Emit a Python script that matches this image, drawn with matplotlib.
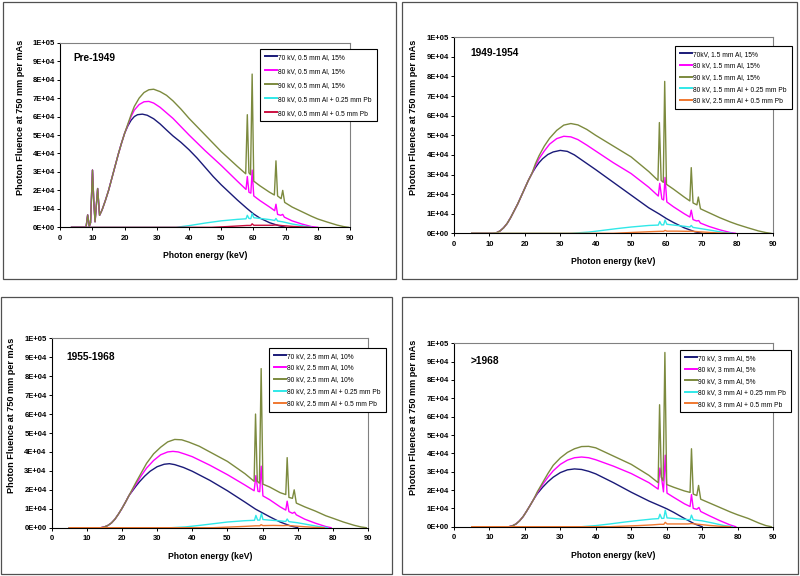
import numpy as np
import matplotlib.pyplot as plt
from matplotlib.ticker import FuncFormatter
from matplotlib.patches import Rectangle

plt.rcParams['font.family'] = ['Liberation Sans', 'DejaVu Sans']

# ================= data (keV, photons per mAs at 750 mm) =================
# ---- Pre-1949, 0.5 mm Al ----
p1_low_e = [3.5, 8.0, 8.5, 9.0, 9.4, 10.0, 10.4, 10.8, 11.6, 12.2, 13, 14, 15, 16, 17, 18, 19, 20]
p1_low_f = [0, 0, 6700, 500, 2500, 31000, 14000, 3000, 21000, 6500, 9500, 14500, 20000, 26500, 33000, 39500, 45500, 51000]
p1_e70 = [21, 22, 23, 24, 25.5, 27, 29, 31, 33, 35, 37.5, 40, 42.5, 45, 47.5, 50, 55, 58, 60, 62, 65, 68, 70]
p1_f70 = [55000, 58000, 60000, 61000, 61300, 60700, 58800, 56000, 52700, 49500, 46000, 42000, 37500, 32500, 27500,
          23000, 14800, 10200, 7300, 5000, 2500, 800, 0]
p1_e80 = [21, 22, 23, 24.5, 26, 27.5, 29, 31, 33, 35, 37.5, 40, 45, 50, 55, 57.7, 58.1, 58.6, 59.2, 59.6, 60.1,
          62, 65, 66.6, 67.0, 67.5, 68.5, 69.1, 69.6, 72, 75, 78, 80]
p1_f80 = [55500, 60000, 63500, 66500, 68000, 68200, 67300, 65000, 62000, 59000, 54500, 50000, 41500, 33500, 25000,
          20500, 27500, 19000, 18500, 31000, 17000, 14500, 11000, 9000, 12500, 7000, 6500, 7000, 5500, 3500, 1800, 400, 0]
p1_e90 = [21, 22, 23, 24.5, 26, 27.5, 29, 31, 33, 35, 37.5, 40, 45, 50, 55, 57.6, 58.1, 58.6, 59.1, 59.6, 60.1,
          62, 65, 66.5, 67.0, 67.5, 68.6, 69.1, 69.7, 72, 75, 78, 80, 83, 86, 88, 89.5]
p1_f90 = [56000, 61000, 65500, 70000, 73000, 74500, 74800, 73500, 71500, 68500, 64000, 59000, 50000, 41000, 33000,
          29000, 61000, 29500, 28500, 83000, 25000, 22500, 19000, 17500, 36000, 17000, 15500, 20000, 13500, 11000,
          8500, 6000, 4500, 2800, 1200, 400, 0]
p1_e_pb25 = [3.5, 36, 40, 45, 50, 55, 57.7, 58.1, 58.6, 59.2, 59.6, 60.1, 62, 65, 66.6, 67.0, 67.5, 69, 70, 72, 75, 78]
p1_f_pb25 = [0, 0, 900, 2300, 3500, 4300, 4600, 6500, 4800, 4700, 7500, 5200, 4800, 4200, 3700, 4800, 3400, 3000, 2600, 1800, 900, 0]
p1_e_pb50 = [3.5, 47, 52, 56, 58, 59.2, 59.6, 60.1, 63, 66, 67, 69, 72, 75, 77.5]
p1_f_pb50 = [0, 0, 400, 800, 1000, 1000, 1900, 1100, 1100, 1100, 1300, 900, 500, 200, 0]

# ---- 1949-1954, 1.5 mm Al ----
p2_low_e = [5, 11, 12, 13, 14, 15, 16, 17, 18, 19, 20, 21, 22]
p2_low_f = [0, 0, 300, 1200, 2800, 5000, 8000, 11500, 15000, 19000, 23000, 27000, 30500]
p2_e70 = [23, 24, 25, 26.5, 28, 30, 32, 34, 36, 38, 40, 45, 50, 55, 58, 60, 62, 65, 68, 70]
p2_f70 = [33500, 36000, 38000, 40200, 41500, 42300, 41800, 40000, 37500, 35000, 32500, 26000, 19500, 13000, 9800, 7500, 5500, 2800, 800, 0]
p2_e80 = [23, 24, 25.5, 27, 29, 31, 33, 35, 37.5, 40, 45, 50, 55, 57.7, 58.1, 58.7, 59.2, 59.6, 60.1,
          62, 65, 66.6, 67.0, 67.5, 68.5, 69.1, 69.6, 72, 75, 78, 79.5]
p2_f80 = [34500, 38000, 42000, 45500, 48300, 49500, 49200, 47800, 45000, 42000, 36000, 30500, 23500, 19000, 25500,
          17500, 17000, 28500, 16000, 13500, 10000, 8300, 11800, 7000, 6300, 6500, 5200, 3500, 1800, 400, 0]
p2_e90 = [23, 24, 25.5, 27, 29, 31, 33, 35, 37.5, 40, 45, 50, 55, 57.6, 58.0, 58.5, 59.1, 59.5, 60.0,
          62, 65, 66.6, 67.0, 67.5, 68.6, 69.0, 69.6, 72, 75, 78, 80, 83, 86, 88, 89.5]
p2_f90 = [35500, 39500, 44500, 48500, 52500, 55200, 56000, 55300, 53000, 50000, 44500, 39000, 31500, 27000, 56500,
          27000, 26000, 77500, 25000, 22500, 18500, 16500, 33500, 15500, 14500, 18500, 12500, 10500, 8000, 5800,
          4500, 2800, 1200, 400, 0]
p2_e_pb25 = [5, 33, 38, 42, 46, 50, 55, 57.7, 58.1, 58.6, 59.2, 59.6, 60.1, 62, 65, 66.6, 67.0, 67.5, 70, 73, 76, 78.5]
p2_f_pb25 = [0, 0, 600, 1500, 2400, 3200, 4000, 4200, 6000, 4300, 4300, 6800, 4600, 4200, 3600, 3200, 4000, 3000, 2300, 1400, 500, 0]
p2_e_pb50 = [5, 45, 50, 55, 58, 59.2, 59.6, 60.1, 63, 66, 67, 69, 72, 75, 77.5]
p2_f_pb50 = [0, 0, 400, 800, 1000, 1000, 1500, 1100, 1100, 1000, 1100, 800, 450, 150, 0]

# ---- 1955-1968, 2.5 mm Al ----
p3_low_e = [5, 14, 15, 16, 17, 18, 19, 20, 21, 22]
p3_low_f = [0, 0, 400, 1200, 2500, 4500, 7200, 10200, 13500, 17000]
p3_e70 = [23, 24, 25, 26.5, 28, 30, 32, 33.5, 35, 37.5, 40, 45, 50, 55, 58, 60, 62, 65, 68, 70]
p3_f70 = [19500, 22000, 24300, 27300, 29800, 32200, 33500, 33800, 33300, 31800, 29800, 25000, 19500, 13500, 9800, 7800, 5800, 3000, 900, 0]
p3_e80 = [23, 24, 25.5, 27, 29, 31, 33, 34.5, 36, 38, 40, 45, 50, 55, 57.6, 58.1, 58.7, 59.2, 59.6, 60.1,
          62, 65, 66.6, 67.0, 67.5, 68.5, 69.1, 69.6, 72, 75, 78, 79.5]
p3_f80 = [20000, 23000, 27500, 31500, 35500, 38500, 40000, 40300, 40000, 38800, 37500, 33000, 28000, 22500, 19500,
          27500, 19200, 19000, 32500, 16800, 14800, 11000, 9300, 14000, 8500, 7600, 8200, 6800, 4500, 2400, 600, 0]
p3_e90 = [23, 24, 25.5, 27, 29, 31, 33, 35, 37, 39, 42, 45, 50, 55, 57.6, 58.0, 58.5, 59.1, 59.6, 60.1,
          62, 65, 66.6, 67.0, 67.5, 68.5, 69.0, 69.6, 72, 75, 78, 80, 83, 86, 88, 89.5]
p3_f90 = [20500, 24000, 29000, 34000, 39000, 42500, 45300, 46600, 46400, 45200, 43000, 40000, 35000, 28500, 24500,
          60000, 24500, 23500, 84000, 23000, 21500, 18500, 17500, 37000, 16000, 15500, 20000, 13000, 11000, 8800,
          6300, 5000, 3000, 1300, 400, 0]
p3_e_pb25 = [5, 34, 38, 42, 46, 50, 55, 57.7, 58.1, 58.6, 59.2, 59.7, 60.1, 62, 65, 66.6, 67.0, 67.5, 70, 73, 76, 78.5]
p3_f_pb25 = [0, 0, 400, 1200, 2100, 3000, 3700, 3900, 6500, 4000, 4000, 7500, 4300, 4000, 3600, 3300, 4600, 3200, 2600, 1600, 600, 0]
p3_e_pb50 = [5, 46, 50, 55, 58, 59.2, 59.6, 60.1, 63, 66, 67, 69, 72, 75, 77.5]
p3_f_pb50 = [0, 0, 300, 700, 1000, 1000, 1600, 1100, 1200, 1100, 1200, 900, 500, 150, 0]

# ---- >1968, 3 mm Al ----
p4_low_e = [5, 15.5, 16.5, 17.5, 18.5, 19.5, 20.5, 21.5, 22.5]
p4_low_f = [0, 0, 500, 1500, 3200, 5500, 8500, 11700, 15000]
p4_e70 = [23.5, 25, 26.5, 28, 30, 32, 34, 36, 38, 40, 45, 50, 55, 58, 60, 62, 65, 68, 70]
p4_f70 = [18000, 21500, 24500, 27000, 29500, 31000, 31500, 31200, 30200, 28800, 24000, 18800, 14000, 11500, 9800, 7800, 4500, 1400, 0]
p4_e80 = [23.5, 25, 26.5, 28, 30, 32, 34, 36, 38, 40, 45, 50, 55, 57.6, 58.1, 58.6, 59.1, 59.6, 60.1,
          62, 65, 66.6, 67.0, 67.5, 68.5, 69.1, 69.6, 72, 75, 78, 79.5]
p4_f80 = [18500, 23000, 27000, 30500, 34000, 36300, 37600, 38000, 37600, 36500, 33000, 29000, 24000, 20500, 32000,
          26000, 19000, 39000, 18300, 16000, 12500, 11000, 17500, 10000, 9500, 10500, 8300, 6000, 3300, 900, 0]
p4_e90 = [23.5, 25, 26.5, 28, 30, 32, 34, 36, 38, 40, 45, 50, 55, 57.6, 58.0, 58.5, 59.0, 59.5, 60.0,
          62, 65, 66.6, 67.0, 67.5, 68.5, 69.0, 69.6, 72, 75, 78, 80, 83, 86, 88, 89.5]
p4_f90 = [19000, 24000, 29000, 33500, 37500, 40500, 42500, 43700, 43800, 43000, 38500, 34000, 28000, 24000, 66500,
          27000, 25000, 95000, 23000, 21500, 19500, 18700, 42500, 17800, 17000, 22500, 15000, 13000, 10500, 8000,
          6500, 4500, 2000, 600, 0]
p4_e_pb25 = [5, 36, 40, 44, 48, 52, 56, 57.7, 58.1, 58.6, 59.2, 59.6, 60.1, 62, 65, 66.6, 67.0, 67.5, 70, 73, 76, 78.5]
p4_f_pb25 = [0, 0, 600, 1500, 2500, 3400, 4200, 4400, 6800, 4500, 4600, 9000, 4800, 4500, 4000, 3800, 6300, 3800, 3200, 2000, 700, 0]
p4_e_pb50 = [5, 44, 48, 52, 56, 58, 59.2, 59.6, 60.1, 63, 66, 67, 69, 72, 75, 78]
p4_f_pb50 = [0, 0, 300, 600, 1000, 1300, 1300, 2400, 1500, 1500, 1500, 1700, 1300, 700, 250, 0]

labels1 = ['70 kV, 0.5 mm Al, 15%', '80 kV, 0.5 mm Al, 15%', '90 kV, 0.5 mm Al, 15%',
           '80 kV, 0.5 mm Al + 0.25 mm Pb', '80 kV, 0.5 mm Al + 0.5 mm Pb']
labels2 = ['70kV, 1.5 mm Al, 15%', '80 kV, 1.5 mm Al, 15%', '90 kV, 1.5 mm Al, 15%',
           '80 kV, 1.5 mm Al + 0.25 mm Pb', '80 kV, 2.5 mm Al + 0.5 mm Pb']
labels3 = ['70 kV, 2.5 mm Al, 10%', '80 kV, 2.5 mm Al, 10%', '90 kV, 2.5 mm Al, 10%',
           '80 kV, 2.5 mm Al + 0.25 mm Pb', '80 kV, 2.5 mm Al + 0.5 mm Pb']
labels4 = ['70 kV, 3 mm Al, 5%', '80 kV, 3 mm Al, 5%', '90 kV, 3 mm Al, 5%',
           '80 kV, 3 mm Al + 0.25 mm Pb', '80 kV, 3 mm Al + 0.5 mm Pb']

# ================= drawing =================
W, H = 800, 576
fig = plt.figure(figsize=(8, 5.76), dpi=100)


def frect(x0, y0, x1, y1):
    # pixel box (top-left origin) -> figure fraction
    return [x0 / W, 1 - y1 / H, (x1 - x0) / W, (y1 - y0) / H]


def panel(box, frame, title, title_xy, low, series, labels, colors, leg_xy, leg_sp):
    x0, y0, x1, y1 = box
    fx0, fy0, fx1, fy1 = frame
    fig.patches.append(Rectangle((fx0 / W, 1 - fy1 / H), (fx1 - fx0) / W, (fy1 - fy0) / H,
                                 transform=fig.transFigure, fill=False, ec='#505050', lw=0.9))
    ax = fig.add_axes(frect(*box))
    low_e, low_f = low
    for i, ((e, f), c, lab) in enumerate(zip(series, colors, labels)):
        if i < 3:
            e = low_e + e
            f = low_f + f
        ax.plot(e, f, color=c, lw=1.0, label=lab)
    ax.set_xlim(0, 90)
    ax.set_ylim(0, 1e5)
    ax.set_xticks(range(0, 91, 10))
    ax.set_yticks(np.arange(0, 100001, 10000))
    ax.yaxis.set_major_formatter(FuncFormatter(lambda v, p: format(v, '.0E')))
    for lab in ax.get_xticklabels() + ax.get_yticklabels():
        lab.set_fontweight('bold')
    ax.tick_params(axis='both', labelsize=5.5, length=2.2, width=0.7, direction='out')
    ax.tick_params(axis='y', pad=1.5)
    ax.tick_params(axis='x', pad=3.0)
    for s in ['left', 'bottom']:
        ax.spines[s].set_color('black')
        ax.spines[s].set_linewidth(0.8)
    for s in ['top', 'right']:
        ax.spines[s].set_color('#808080')
        ax.spines[s].set_linewidth(0.8)

    fig.text(title_xy[0] / W, 1 - title_xy[1] / H, title, fontsize=7.3, fontweight='bold',
             ha='left', va='baseline')
    fig.text((x0 + x1) / 2 / W, 1 - (y1 + 31) / H, 'Photon energy (keV)', fontsize=6.2,
             fontweight='bold', ha='center', va='baseline')
    fig.text((x0 - 40) / W, 1 - ((y0 + y1) / 2 - 18) / H, 'Photon Fluence at 750 mm per mAs',
             fontsize=6.6, fontweight='bold', rotation=90, ha='center', va='center')

    leg = ax.legend(loc='upper left', bbox_to_anchor=(leg_xy[0] / W, 1 - leg_xy[1] / H),
                    bbox_transform=fig.transFigure, borderaxespad=0, fontsize=4.8,
                    handlelength=1.9, handletextpad=0.15, labelspacing=leg_sp,
                    borderpad=0.7, fancybox=False, framealpha=1, edgecolor='black')
    leg.get_frame().set_linewidth(0.8)
    for ln in leg.get_lines():
        ln.set_linewidth(1.4)
    return ax


col_a = ['#1a1a78', '#ff00ff', '#7c8a3e', '#30e8e8', '#cc1040']
col_b = ['#1a1a78', '#ff00ff', '#7c8a3e', '#30e8e8', '#f07830']

panel((60.3, 42.7, 350, 227.3), (3, 2, 396, 279), 'Pre-1949', (73.3, 60.7),
      (p1_low_e, p1_low_f),
      [(p1_e70, p1_f70), (p1_e80, p1_f80), (p1_e90, p1_f90), (p1_e_pb25, p1_f_pb25), (p1_e_pb50, p1_f_pb50)],
      labels1, col_a, (260, 49), 1.05)
panel((454, 37.3, 772.7, 233.3), (402, 2, 797, 279), '1949-1954', (470.7, 56),
      (p2_low_e, p2_low_f),
      [(p2_e70, p2_f70), (p2_e80, p2_f80), (p2_e90, p2_f90), (p2_e_pb25, p2_f_pb25), (p2_e_pb50, p2_f_pb50)],
      labels2, col_b, (675, 46), 0.7)
panel((51.7, 338.3, 368, 527.7), (1, 297, 392, 574), '1955-1968', (66.7, 360),
      (p3_low_e, p3_low_f),
      [(p3_e70, p3_f70), (p3_e80, p3_f80), (p3_e90, p3_f90), (p3_e_pb25, p3_f_pb25), (p3_e_pb50, p3_f_pb50)],
      labels3, col_b, (269, 348), 0.72)
panel((454, 343.3, 773, 526.7), (402, 297, 798, 574), '>1968', (471, 364.3),
      (p4_low_e, p4_low_f),
      [(p4_e70, p4_f70), (p4_e80, p4_f80), (p4_e90, p4_f90), (p4_e_pb25, p4_f_pb25), (p4_e_pb50, p4_f_pb50)],
      labels4, col_b, (680, 350), 0.68)

fig.savefig('out.png', dpi=100)
